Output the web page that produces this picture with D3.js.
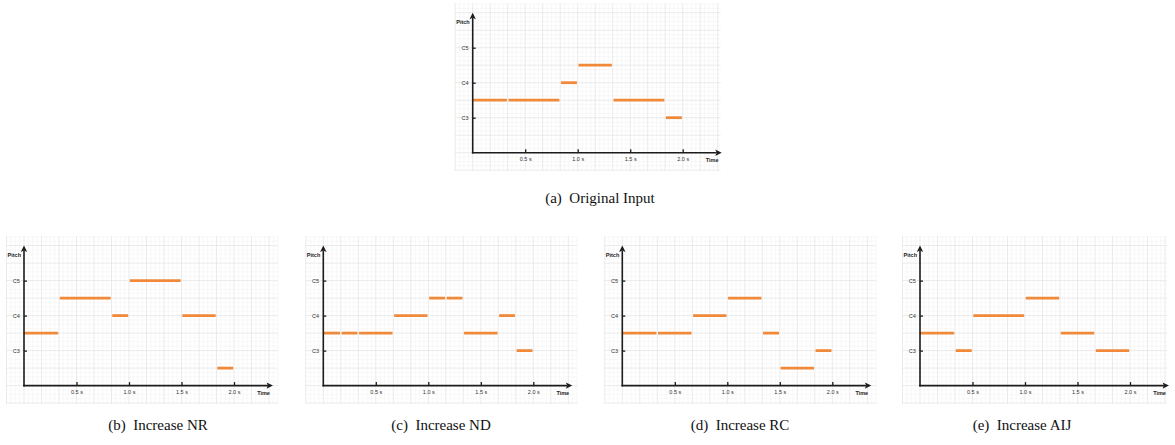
<!DOCTYPE html>
<html><head><meta charset="utf-8">
<script src="https://cdn.jsdelivr.net/npm/d3@7"></script>
<style>body{margin:0;background:#fff}svg{display:block}</style>
</head><body>
<svg id="c" width="1175" height="445"></svg>
<script>
// ---- data ----
const timeTicks = [0.5, 1.0, 1.5, 2.0];
const timeTickLabels = ["0.5 s", "1.0 s", "1.5 s", "2.0 s"];
const pitchTicks = [3, 4, 5];
const pitchTickLabels = ["C3", "C4", "C5"];
const xAxisTitle = "Time";
const yAxisTitle = "Pitch";
const captions = ["(a)  Original Input", "(b)  Increase NR", "(c)  Increase ND", "(d)  Increase RC", "(e)  Increase AIJ"];
// notes: [start (s), end (s), pitch in octave units (3 = C3, 4 = C4, 5 = C5)]
const notesA = [[0,0.333,3.5],[0.333,0.833,3.5],[0.833,1.0,4],[1.0,1.333,4.5],[1.333,1.833,3.5],[1.833,2.0,3]];
const notesB = [[0,0.333,3.5],[0.333,0.833,4.5],[0.833,1.0,4],[1.0,1.5,5],[1.5,1.833,4],[1.833,2.0,2.5]];
const notesC = [[0,0.167,3.5],[0.167,0.333,3.5],[0.333,0.667,3.5],[0.667,1.0,4],[1.0,1.167,4.5],[1.167,1.333,4.5],[1.333,1.667,3.5],[1.667,1.833,4],[1.833,2.0,3]];
const notesD = [[0,0.333,3.5],[0.333,0.667,3.5],[0.667,1.0,4],[1.0,1.333,4.5],[1.333,1.5,3.5],[1.5,1.833,2.5],[1.833,2.0,3]];
const notesE = [[0,0.333,3.5],[0.333,0.5,3],[0.5,1.0,4],[1.0,1.333,4.5],[1.333,1.667,3.5],[1.667,2.0,3]];
const allNotes = [notesA, notesB, notesC, notesD, notesE];

// ---- layout ----
const panels = [
  {ox: 472.7, oy: 152.7, gw: 248, cx: 600, cy: 203},
  {ox: 24,    oy: 385.6, gw: 254, cx: 158, cy: 430},
  {ox: 323.3, oy: 385.6, gw: 254, cx: 441, cy: 430},
  {ox: 622.3, oy: 385.6, gw: 254, cx: 740, cy: 430},
  {ox: 920,   oy: 385.6, gw: 247, cx: 1022, cy: 430}
];
const noteColor = "#f08a3a";
const axisColor = "#1c1c1c";
const svg = d3.select("#c");

panels.forEach((p, i) => {
  const ts = d3.scaleLinear().domain([0, 2]).range([p.ox, p.ox + 210]);
  const ps = d3.scaleLinear().domain([2, 6]).range([p.oy, p.oy - 140]);
  const g = svg.append("g");
  const gx0 = p.ox - 18, gx1 = p.ox + p.gw, gy0 = p.oy - 149.5, gy1 = p.oy + 18;
  const unit = 17.5;
  // minor grid
  const minor = g.append("g").attr("stroke", "#f3f3f3").attr("stroke-width", 0.6);
  const major = g.append("g").attr("stroke", "#e3e3e3").attr("stroke-width", 0.7);
  for (let k = -4; k * unit / 4 + p.ox <= gx1; k++) {
    const x = p.ox + k * unit / 4;
    if (x < gx0) continue;
    (k % 4 === 0 ? major : minor).append("line").attr("x1", x).attr("x2", x).attr("y1", gy0).attr("y2", gy1);
  }
  for (let k = -4; p.oy - k * unit / 4 >= gy0; k++) {
    const y = p.oy - k * unit / 4;
    if (y > gy1) continue;
    (k % 4 === 0 ? major : minor).append("line").attr("y1", y).attr("y2", y).attr("x1", gx0).attr("x2", gx1);
  }

  // notes
  g.append("g").selectAll("line").data(allNotes[i]).join("line")
    .attr("x1", d => ts(d[0]) + (d[0] > 0 ? 0.8 : 0))
    .attr("x2", d => ts(d[1]) - 0.8)
    .attr("y1", d => ps(d[2])).attr("y2", d => ps(d[2]))
    .attr("stroke", noteColor).attr("stroke-width", 2.8);

  // axes
  const xa = g.append("g").attr("transform", `translate(0,${p.oy})`)
    .call(d3.axisBottom(ts).tickValues(timeTicks).tickFormat((d, j) => timeTickLabels[j]).tickSize(-3.5).tickPadding(4.6));
  const ya = g.append("g").attr("transform", `translate(${p.ox},0)`)
    .call(d3.axisLeft(ps).tickValues(pitchTicks).tickFormat((d, j) => pitchTickLabels[j]).tickSize(-3).tickPadding(4.2));
  [xa, ya].forEach(a => {
    a.select(".domain").remove();
    a.selectAll(".tick line").attr("stroke", axisColor).attr("stroke-width", 1.3);
    a.selectAll(".tick text").attr("font-family", "Liberation Sans, Arial, sans-serif").attr("font-size", 5.5).attr("fill", "#333");
  });

  // axis lines with arrows
  const tipX = p.ox + 249, tipY = p.oy - 140;
  g.append("line").attr("x1", p.ox).attr("y1", p.oy + 0.8).attr("x2", p.ox).attr("y2", tipY + 5)
    .attr("stroke", axisColor).attr("stroke-width", 1.6);
  g.append("line").attr("x1", p.ox - 0.8).attr("y1", p.oy).attr("x2", tipX - 5).attr("y2", p.oy)
    .attr("stroke", axisColor).attr("stroke-width", 1.6);
  g.append("path").attr("d", `M${p.ox},${tipY} L${p.ox + 3.2},${tipY + 6.5} L${p.ox},${tipY + 5} L${p.ox - 3.2},${tipY + 6.5} Z`).attr("fill", axisColor);
  g.append("path").attr("d", `M${tipX},${p.oy} L${tipX - 6.5},${p.oy - 3.2} L${tipX - 5},${p.oy} L${tipX - 6.5},${p.oy + 3.2} Z`).attr("fill", axisColor);

  g.append("text").attr("x", p.ox - 3).attr("y", p.oy - 128.3).attr("text-anchor", "end")
    .attr("font-family", "Liberation Sans, Arial, sans-serif").attr("font-size", 5.5).attr("font-weight", "bold").attr("fill", "#222")
    .text(yAxisTitle);
  g.append("text").attr("x", p.ox + 239.5).attr("y", p.oy + 9.6).attr("text-anchor", "middle")
    .attr("font-family", "Liberation Sans, Arial, sans-serif").attr("font-size", 5.5).attr("font-weight", "bold").attr("fill", "#222")
    .text(xAxisTitle);

  // caption
  svg.append("text").attr("x", p.cx).attr("y", p.cy).attr("text-anchor", "middle")
    .attr("font-family", "Liberation Serif, Times New Roman, serif").attr("font-size", 15).attr("fill", "#111")
    .attr("xml:space", "preserve").style("white-space", "pre")
    .text(captions[i]);
});
</script>
</body></html>
